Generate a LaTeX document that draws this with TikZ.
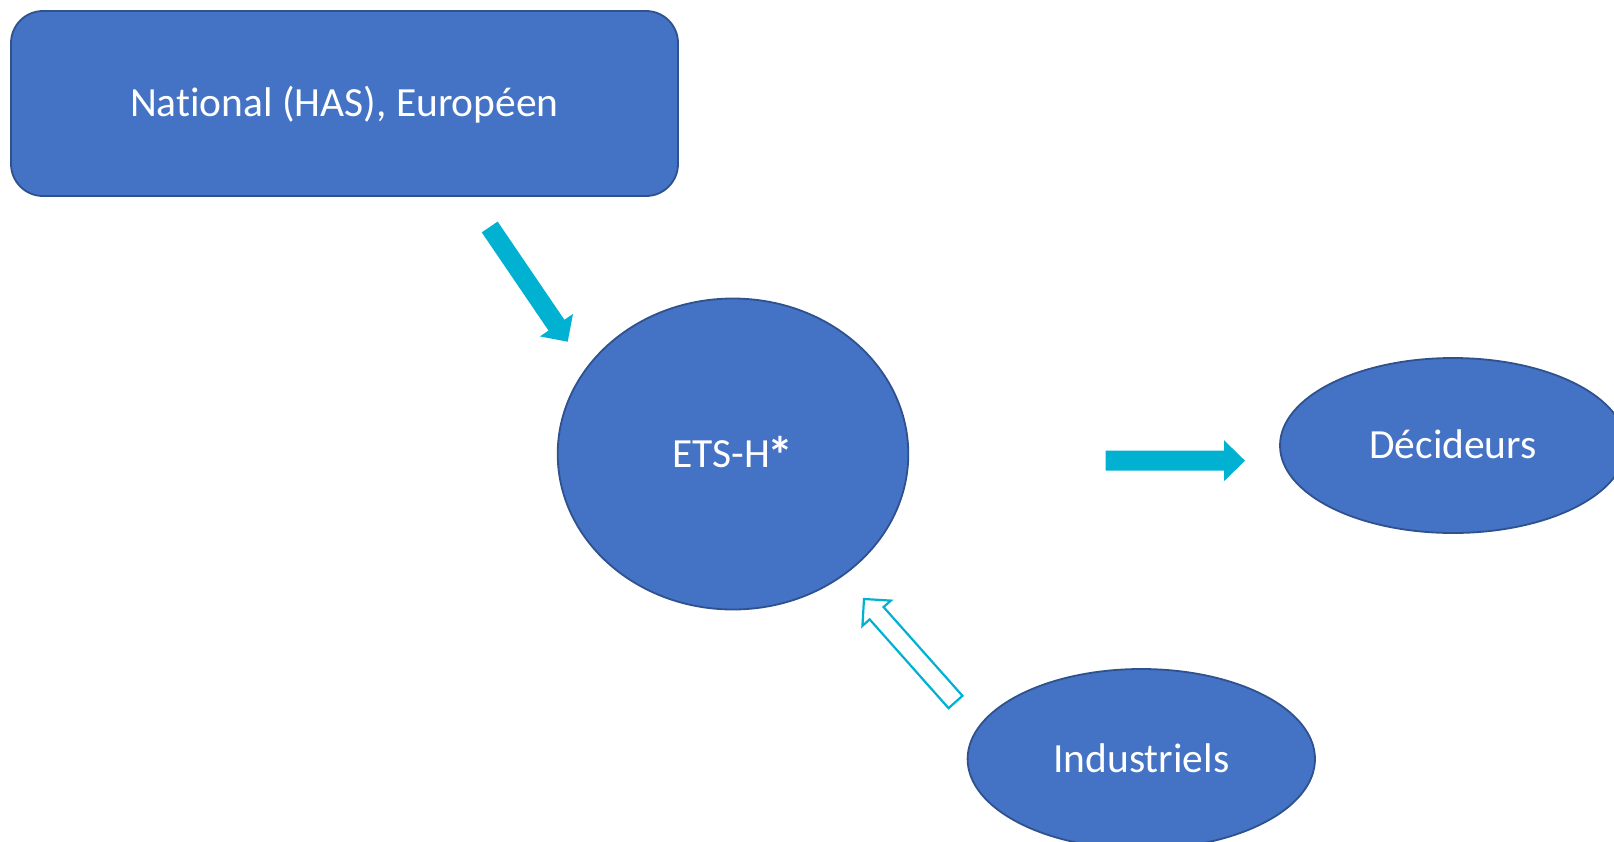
\documentclass[tikz,border=0pt]{standalone}
\usepackage{fontspec}
\setmainfont{Carlito}[Ligatures=NoCommon]
\usetikzlibrary{shapes.geometric,calc}
\definecolor{boxfill}{HTML}{4472C4}
\definecolor{boxline}{HTML}{2F528F}
\definecolor{arrcyan}{HTML}{00B1D2}
\newcommand{\blockarrow}[6]{%
  \coordinate (#1-h) at ($(#2)!#5!(#1)$);
  \draw[#6] ($(#1)!#3!90:(#2)$) -- ($(#1-h)!#3!90:(#2)$) -- ($(#1-h)!#4!90:(#2)$)
    -- (#2) -- ($(#1-h)!#4!-90:(#2)$) -- ($(#1-h)!#3!-90:(#2)$)
    -- ($(#1)!#3!-90:(#2)$) -- cycle;}
\newcommand{\bigast}{\kern-2pt\raisebox{-6pt}{\bfseries\fontsize{52}{60}\selectfont *}}
\begin{document}
\begin{tikzpicture}[x=1pt,y=-1pt,
  shapebox/.style={fill=boxfill,draw=boxline,line width=1.8pt,text=white,
    font=\fontsize{41.5}{50}\selectfont,inner sep=0pt,text height=26.7pt,text depth=0pt},
  ellbox/.style={shapebox,ellipse},
  solidarrow/.style={fill=arrcyan,draw=none},
  hollowarrow/.style={draw=arrcyan,fill=white,line width=2.2pt,line join=miter}]
\useasboundingbox (0,0) rectangle (1614,841);
\clip (0,0) rectangle (1614,841);
\fill[white] (0,0) rectangle (1614,841);
\node[shapebox,rectangle,rounded corners=32pt,minimum width=667pt,minimum height=185pt]
  (nat) at (344.5,103.5) {National (HAS), Européen};
\node[ellbox,minimum width=350.6pt,minimum height=311pt] (ets) at (733,454) {ETS-H\bigast};
\node[ellbox,minimum width=346pt,minimum height=175pt] (dec) at (1453,445.5) {Décideurs};
\node[ellbox,minimum width=347.4pt,minimum height=180pt] (ind) at (1141.3,759) {Industriels};
% arrows
\coordinate (a1t) at (489.7,227);
\coordinate (a1p) at (567.7,341.7);
\blockarrow{a1t}{a1p}{9.6pt}{20pt}{20pt}{solidarrow}
\coordinate (a3t) at (1105.7,460.7);
\coordinate (a3p) at (1245,460.7);
\blockarrow{a3t}{a3p}{10pt}{20.5pt}{21pt}{solidarrow}
\coordinate (a2t) at (955.5,702);
\coordinate (a2p) at (864,599);
\blockarrow{a2t}{a2p}{9.3pt}{19pt}{19pt}{hollowarrow}
\end{tikzpicture}
\end{document}
